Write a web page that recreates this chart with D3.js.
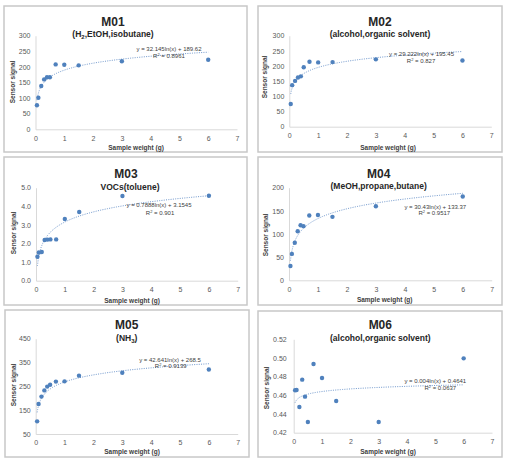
<!DOCTYPE html>
<html><head><meta charset="utf-8">
<script src="https://cdn.jsdelivr.net/npm/d3@7"></script>
<style>
html,body{margin:0;padding:0;background:#fff;}
svg{display:block;font-family:"Liberation Sans",Arial,sans-serif;}
</style></head><body>
<svg id="c" width="505" height="465"></svg>
<script>
// ---------- data ----------
const weights = [0.05, 0.1, 0.2, 0.3, 0.4, 0.5, 0.7, 1.0, 1.5, 3.0, 6.0];
const m01 = [77, 101, 139, 160, 167, 167, 208, 207, 205, 218, 223];
const m02 = [75, 137, 151, 162, 166, 196, 214, 212, 213, 222, 218];
const m03 = [1.29, 1.52, 1.54, 2.19, 2.21, 2.22, 2.22, 3.32, 3.69, 4.55, 4.57];
const m04 = [31, 57, 81, 106, 119, 117, 140, 141, 137, 160, 181];
const m05 = [103, 176, 207, 233, 249, 257, 270, 271, 295, 307, 321];
const m06 = [0.4655, 0.4657, 0.4475, 0.4768, 0.4586, 0.4314, 0.4936, 0.4786, 0.4539, 0.4314, 0.4996];
const series = [m01, m02, m03, m04, m05, m06];

const titles = ["M01", "M02", "M03", "M04", "M05", "M06"];
// subtitle parts: [text, subscript, text]
const subtitles = [
  ["(H", "2", ",EtOH,isobutane)"],
  ["(alcohol,organic solvent)", "", ""],
  ["VOCs(toluene)", "", ""],
  ["(MeOH,propane,butane)", "", ""],
  ["(NH", "3", ")"],
  ["(alcohol,organic solvent)", "", ""]
];
const trendA = [32.145, 29.222, 0.7888, 30.43, 42.641, 0.004];
const trendB = [189.62, 195.45, 3.1545, 133.37, 268.5, 0.4641];
const eqTexts = ["y = 32.145ln(x) + 189.62", "y = 29.222ln(x) + 195.45", "y = 0.7888ln(x) + 3.1545",
                 "y = 30.43ln(x) + 133.37", "y = 42.641ln(x) + 268.5", "y = 0.004ln(x) + 0.4641"];
const r2Texts = ["0.8961", "0.827", "0.901", "0.9517", "0.9139", "0.0637"];

const xTicks = [0, 1, 2, 3, 4, 5, 6, 7];
const yDomains = [[0, 300], [0, 300], [0, 5], [0, 200], [50, 450], [0.42, 0.52]];
const yTicks = [
  [0, 50, 100, 150, 200, 250, 300],
  [0, 50, 100, 150, 200, 250, 300],
  [0, 1, 2, 3, 4, 5],
  [0, 50, 100, 150, 200],
  [50, 150, 250, 350, 450],
  [0.42, 0.44, 0.46, 0.48, 0.50, 0.52]
];
const yFormats = ["d", "d", ".1f", "d", "d", ".2f"];
const xLabel = "Sample weight  (g)";
const yLabel = "Sensor  signal";

// ---------- layout ----------
const layout = [
  {box:[4,6,247,152],   x0:35.5, x1:237,   y0:129.3, y1:35.7,  title:[113,22],   sub:[113,34],   yl:[13,82],  xl:[136,147.5], eq:[169,49],   r2:[169,56],   pad:5},
  {box:[258,6,502,152], x0:289.3,x1:491.3, y0:126.7, y1:35.7,  title:[380,22],   sub:[380,34],   yl:[265,77], xl:[388,148],   eq:[421.5,54], r2:[421,60.5], pad:5},
  {box:[4,157,247,305], x0:36,   x1:237.7, y0:280.7, y1:187.7, title:[126,174],  sub:[130,187],  yl:[14,233], xl:[132,300.7], eq:[159,205.3],r2:[160,213],  pad:5},
  {box:[258,157,502,305],x0:289, x1:491.7, y0:280.3, y1:187.7, title:[378.7,173.3],sub:[378.7,186],yl:[266,235],xl:[384.7,299.3],eq:[435.3,207.3],r2:[434.3,213.3],pad:5},
  {box:[5,310,249,457], x0:35.7, x1:237.7, y0:434,   y1:338.7, title:[126.7,325],sub:[126.7,338],yl:[14,385], xl:[132,451.7], eq:[170,360],  r2:[170.7,366],pad:5},
  {box:[258,311,502,457],x0:293.7,x1:492,  y0:432.7, y1:339.3, title:[380.3,325],sub:[380.3,338.3],yl:[267,388],xl:[388,451.7],eq:[435.3,381], r2:[440.3,388.3],pad:7}
];

const svg = d3.select("#c");
svg.append("rect").attr("width",505).attr("height",465).attr("fill","#fff");

layout.forEach((L, i) => {
  const g = svg.append("g");
  g.append("rect")
    .attr("x", L.box[0]).attr("y", L.box[1])
    .attr("width", L.box[2] - L.box[0]).attr("height", L.box[3] - L.box[1])
    .attr("fill", "#fff").attr("stroke", "#c8c8c8").attr("stroke-width", 1.5);

  const x = d3.scaleLinear().domain([0, 7]).range([L.x0, L.x1]);
  const y = d3.scaleLinear().domain(yDomains[i]).range([L.y0, L.y1]);

  const gx = g.append("g").attr("transform", `translate(0,${L.y0})`)
    .call(d3.axisBottom(x).tickValues(xTicks).tickSize(0).tickSizeOuter(0).tickPadding(6.5).tickFormat(d3.format("d")));
  const gy = g.append("g").attr("transform", `translate(${L.x0},0)`)
    .call(d3.axisLeft(y).tickValues(yTicks[i]).tickSize(0).tickSizeOuter(0).tickPadding(L.pad).tickFormat(d3.format(yFormats[i])));
  [gx, gy].forEach(a => {
    a.attr("font-family", null).attr("font-size", null);
    a.select(".domain").attr("stroke", "#d9d9d9").attr("stroke-width", 1);
    a.selectAll("text").attr("font-size", "7px").attr("fill", "#595959");
  });

  // trendline
  const samples = d3.range(0, 201).map(k => 0.05 * Math.pow(6 / 0.05, k / 200));
  g.append("path")
    .datum(samples)
    .attr("fill", "none")
    .attr("stroke", "#6f97cc")
    .attr("stroke-width", 1)
    .attr("stroke-dasharray", "1,1.3")
    .attr("d", d3.line().x(d => x(d)).y(d => y(trendA[i] * Math.log(d) + trendB[i])));

  // points
  g.selectAll("circle.pt").data(weights.map((w, k) => [w, series[i][k]]))
    .join("circle").attr("class", "pt")
    .attr("cx", d => x(d[0])).attr("cy", d => y(d[1]))
    .attr("r", 2.2).attr("fill", "#4f81bd");

  // title
  g.append("text").attr("x", L.title[0]).attr("y", L.title[1]).attr("dy", "0.35em")
    .attr("text-anchor", "middle").attr("font-size", "12px").attr("font-weight", "bold").attr("fill", "#262626")
    .text(titles[i]);
  const st = g.append("text").attr("x", L.sub[0]).attr("y", L.sub[1]).attr("dy", "0.35em")
    .attr("text-anchor", "middle").attr("font-size", "8.5px").attr("font-weight", "bold").attr("fill", "#262626");
  st.append("tspan").text(subtitles[i][0]);
  if (subtitles[i][1]) {
    st.append("tspan").attr("font-size", "6px").attr("dy", "2").text(subtitles[i][1]);
    st.append("tspan").attr("dy", "-2").text(subtitles[i][2]);
  }

  // axis titles
  g.append("text").attr("transform", `translate(${L.yl[0]},${L.yl[1]}) rotate(-90)`).attr("dy", "0.35em")
    .attr("text-anchor", "middle").attr("font-size", "6.5px").attr("font-weight", "bold").attr("fill", "#404040")
    .text(yLabel);
  g.append("text").attr("x", L.xl[0]).attr("y", L.xl[1]).attr("dy", "0.35em")
    .attr("text-anchor", "middle").attr("font-size", "6.5px").attr("font-weight", "bold").attr("fill", "#404040")
    .text(xLabel);

  // equation
  g.append("text").attr("x", L.eq[0]).attr("y", L.eq[1]).attr("dy", "0.35em")
    .attr("text-anchor", "middle").attr("font-size", "6px").attr("fill", "#404040")
    .text(eqTexts[i]);
  const rt = g.append("text").attr("x", L.r2[0]).attr("y", L.r2[1]).attr("dy", "0.35em")
    .attr("text-anchor", "middle").attr("font-size", "6px").attr("fill", "#404040");
  rt.append("tspan").text("R");
  rt.append("tspan").attr("font-size", "4px").attr("dy", "-2").text("2");
  rt.append("tspan").attr("dy", "2").text(" = " + r2Texts[i]);
});
</script>
</body></html>
